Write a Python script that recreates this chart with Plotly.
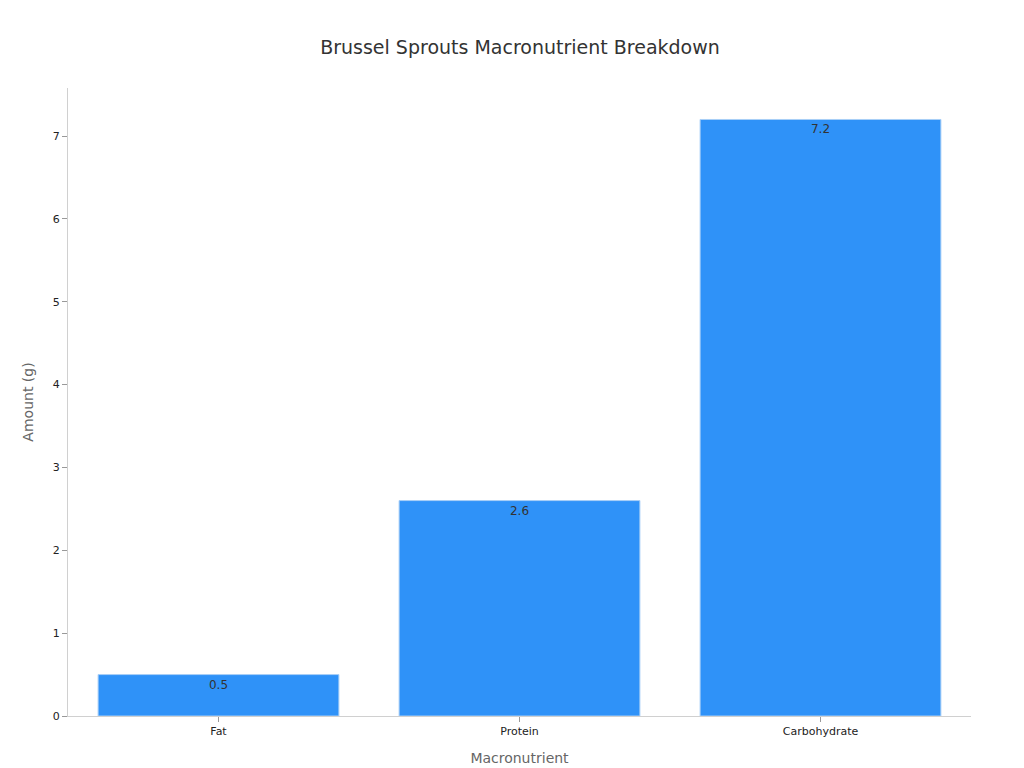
import plotly.graph_objects as go

categories = ["Fat", "Protein", "Carbohydrate"]
values = [0.5, 2.6, 7.2]
labels = ["0.5", "2.6", "7.2"]

fig = go.Figure(go.Bar(
    x=categories, y=values, text=labels, textposition="inside",
    insidetextanchor="end",
    textfont=dict(color="#333333", size=12),
    marker=dict(color="#2f92f8", line=dict(color="#a9cff7", width=1)),
))
fig.update_layout(
    width=1024, height=768,
    margin=dict(l=60, r=61, t=80, b=60),
    paper_bgcolor="white", plot_bgcolor="white",
    font=dict(family="DejaVu Sans", size=11, color="#222222"),
    title=dict(text="Brussel Sprouts Macronutrient Breakdown", x=0.5, xanchor="center",
               y=0.957, font=dict(size=19, color="#333333")),
    bargap=0.2, showlegend=False,
)
fig.update_xaxes(title=dict(text="Macronutrient", font=dict(size=14, color="#666666")),
                 showline=True, linecolor="#d0d0d0", ticks="outside", ticklen=5,
                 tickcolor="#999999", showgrid=False)
fig.update_yaxes(title=dict(text="Amount (g)", font=dict(size=14, color="#666666")),
                 range=[0, 7.58], dtick=1, showline=True, linecolor="#d0d0d0",
                 ticks="outside", ticklen=5, tickcolor="#999999", showgrid=False,
                 zeroline=False)
fig.write_html("out.html")
